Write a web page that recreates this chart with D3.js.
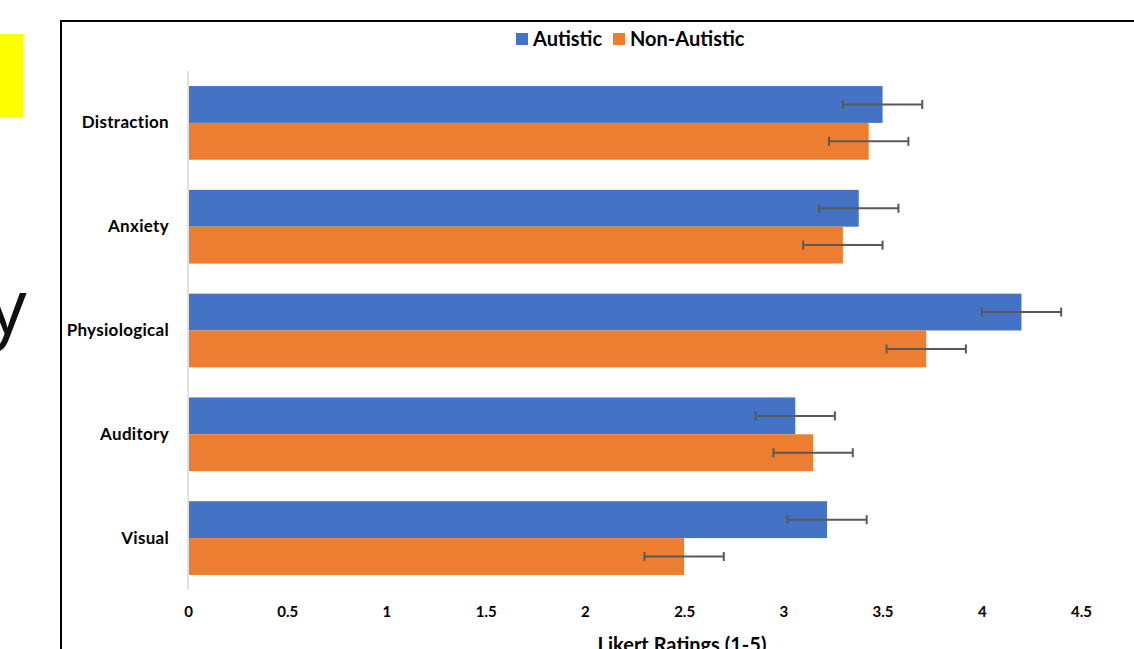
<!DOCTYPE html>
<html><head><meta charset="utf-8">
<script src="https://cdn.jsdelivr.net/npm/d3@7/dist/d3.min.js"></script>
<style>body{margin:0;background:#fff;overflow:hidden}svg{display:block}</style>
</head><body>
<svg id="c" width="1134" height="649"></svg>
<script>
const categories = ["Distraction","Anxiety","Physiological","Auditory","Visual"];
const seriesNames = ["Autistic","Non-Autistic"];
const autistic = [3.50, 3.38, 4.20, 3.06, 3.22];
const nonAutistic = [3.43, 3.30, 3.72, 3.15, 2.50];
const autisticErr = [0.20, 0.20, 0.20, 0.20, 0.20];
const nonAutisticErr = [0.20, 0.20, 0.20, 0.20, 0.20];
const xTicks = [0,0.5,1,1.5,2,2.5,3,3.5,4,4.5];
const xTitle = "Likert Ratings (1-5)";
const colors = ["#4472C4","#ED7D31"];

const svg = d3.select("#c");
const font = "Lato, 'Open Sans', sans-serif";

// slide context
svg.append("rect").attr("x",0).attr("y",34).attr("width",23).attr("height",83).attr("fill","#FFFF00");
svg.append("text").attr("x",-12).attr("y",334).attr("font-family","'Open Sans', sans-serif").attr("font-size",77).attr("font-weight",400).attr("fill","#111").text("y");

// frame
svg.append("path").attr("d","M61,649 V21 H1134").attr("fill","none").attr("stroke","#000").attr("stroke-width",2);

const x = d3.scaleLinear().domain([0,4.5]).range([188,1081]);
const y = d3.scaleBand().domain(categories).range([71,590]).paddingInner(0.29).paddingOuter(0.145);
const sub = d3.scaleBand().domain(seriesNames).range([0,y.bandwidth()]);

// axis line
svg.append("line").attr("x1",x(0)).attr("x2",x(0)).attr("y1",71).attr("y2",590).attr("stroke","#d9d9d9").attr("stroke-width",1.5);

const data = [autistic, nonAutistic];
const errs = [autisticErr, nonAutisticErr];
seriesNames.forEach((s,si)=>{
  const g = svg.append("g");
  g.selectAll("rect").data(categories).join("rect")
    .attr("x",x(0)+1).attr("y",c=>y(c)+sub(s))
    .attr("width",(c,i)=>x(data[si][i])-x(0)-1).attr("height",sub.bandwidth())
    .attr("fill",colors[si]);
});
seriesNames.forEach((s,si)=>{
  categories.forEach((c,i)=>{
    const cy = y(c)+sub(s)+sub.bandwidth()/2;
    const lo = x(data[si][i]-errs[si][i]), hi = x(data[si][i]+errs[si][i]);
    const g = svg.append("g").attr("stroke","#595959").attr("stroke-width",2);
    g.append("line").attr("x1",lo).attr("x2",hi).attr("y1",cy).attr("y2",cy);
    g.append("line").attr("x1",lo).attr("x2",lo).attr("y1",cy-4.5).attr("y2",cy+4.5);
    g.append("line").attr("x1",hi).attr("x2",hi).attr("y1",cy-4.5).attr("y2",cy+4.5);
  });
});

// x axis labels
const xa = svg.append("g").attr("transform","translate(0,590)")
  .call(d3.axisBottom(x).tickValues(xTicks).tickSize(0).tickPadding(16).tickFormat(d=>String(d)));
xa.select(".domain").remove();
xa.selectAll("text").attr("font-family",font).attr("font-size",15).attr("font-weight",700).attr("fill","#000");

// y axis labels
const ya = svg.append("g").attr("transform","translate(188,0)")
  .call(d3.axisLeft(y).tickSize(0).tickPadding(19));
ya.select(".domain").remove();
ya.selectAll("text").attr("font-family",font).attr("font-size",17).attr("font-weight",700).attr("fill","#000").attr("letter-spacing",0.3);

svg.append("text").attr("x",682).attr("y",652).attr("text-anchor","middle")
  .attr("font-family",font).attr("font-size",20).attr("font-weight",700).text(xTitle);

// legend
const leg = svg.append("g").attr("font-family",font).attr("font-size",20).attr("font-weight",700);
const legX = [516, 613];
seriesNames.forEach((s,i)=>{
  leg.append("rect").attr("x",legX[i]).attr("y",33).attr("width",12).attr("height",12).attr("fill",colors[i]);
  leg.append("text").attr("x",legX[i]+17).attr("y",46).text(s);
});
</script>
</body></html>
